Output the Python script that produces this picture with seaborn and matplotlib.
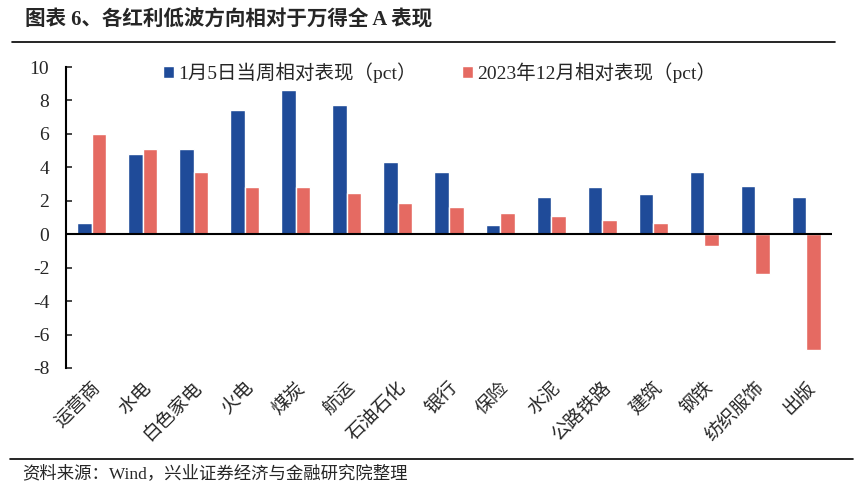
"""
图表6：各红利低波方向相对于万得全A表现
"""

import matplotlib
matplotlib.use("Agg")
import matplotlib.pyplot as plt
from matplotlib.lines import Line2D
import pandas as pd
import seaborn as sns

categories = ["运营商", "水电", "白色家电", "火电", "煤炭", "航运", "石油石化", "银行",
              "保险", "水泥", "公路铁路", "建筑", "钢铁", "纺织服饰", "出版"]
week_vals = [0.7, 4.8, 5.1, 7.4, 8.6, 7.7, 4.3, 3.75, 0.55, 2.2, 2.85, 2.4, 3.7, 2.9, 2.2]
dec_vals = [6.0, 5.1, 3.75, 2.85, 2.85, 2.45, 1.85, 1.65, 1.25, 1.1, 0.85, 0.65, -0.7, -2.35, -6.9]
series_names = ["1月5日当周相对表现（pct）", "2023年12月相对表现（pct）"]
yticks = [-8, -6, -4, -2, 0, 2, 4, 6, 8, 10]

colors = ["#1F4B99", "#E56A62"]

sns.set_theme(style="white")
fam = ["Liberation Serif", "Noto Sans CJK SC"]
plt.rcParams["font.family"] = fam
plt.rcParams["axes.unicode_minus"] = False

df = pd.DataFrame({
    "cat": categories * 2,
    "val": week_vals + dec_vals,
    "series": [series_names[0]] * len(categories) + [series_names[1]] * len(categories),
})

fig = plt.figure(figsize=(8.65, 4.96), dpi=100)
ax = fig.add_axes([66 / 865, 1 - 368 / 496, (832 - 66) / 865, (368 - 67) / 496])

sns.barplot(data=df, x="cat", y="val", hue="series", palette=colors,
            width=0.57, gap=0, saturation=1, ax=ax)

ax.set_xlim(-0.5, len(categories) - 0.5)
ax.set_ylim(-8, 10)
ax.set_yticks(yticks)
ax.set_yticklabels([str(t) for t in yticks], fontsize=14, family=fam)
ax.set_xlabel("")
ax.set_ylabel("")
ax.axhline(0, color="black", lw=1.5, zorder=3)

for s in ["top", "right", "bottom"]:
    ax.spines[s].set_visible(False)
ax.spines["left"].set_color("black")
ax.spines["left"].set_linewidth(1.5)
ax.tick_params(axis="y", direction="in", length=4, width=1.2, pad=12, left=True)
ax.tick_params(axis="x", length=0, pad=8)
ax.set_xticks(range(len(categories)))
ax.set_xticklabels(categories, rotation=45, ha="right", rotation_mode="anchor",
                   fontsize=13.5, family=fam)

leg = ax.legend(loc="upper center", bbox_to_anchor=(0.488, 1.075), ncol=2, frameon=False,
                fontsize=14, handlelength=0.55, handleheight=0.55, handletextpad=0.25,
                columnspacing=2.3)
for t in leg.get_texts():
    t.set_family(fam)

fig.text(25 / 865, 1 - 20 / 496, "图表 6、各红利低波方向相对于万得全 A 表现",
         fontsize=14.8, fontweight="bold", family=fam, va="center", ha="left")
fig.add_artist(Line2D([12 / 865, 835 / 865], [1 - 42 / 496, 1 - 42 / 496],
                      color="black", lw=1.2, transform=fig.transFigure))
fig.add_artist(Line2D([10 / 865, 853 / 865], [1 - 459 / 496, 1 - 459 / 496],
                      color="black", lw=1.2, transform=fig.transFigure))
fig.text(22 / 865, 1 - 474 / 496, "资料来源：Wind，兴业证券经济与金融研究院整理",
         fontsize=12.5, family=fam, va="center", ha="left")

fig.savefig("out.png", dpi=100)
